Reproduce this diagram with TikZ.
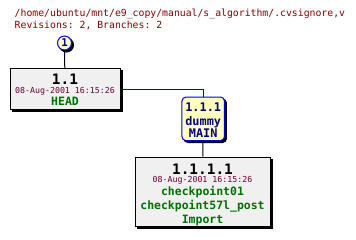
\documentclass[tikz,border=0pt]{standalone}
\usepackage{fontspec}
\setmonofont{DejaVu Sans Mono}
\usepackage{tikz}
\usetikzlibrary{positioning, shadows}

\definecolor{titlered}{RGB}{136,0,0}
\definecolor{datered}{RGB}{102,0,51}
\definecolor{taggreen}{RGB}{0,112,0}
\definecolor{branchblue}{RGB}{0,0,128}
\definecolor{linkblue}{RGB}{0,0,220}
\definecolor{revgray}{RGB}{240,240,240}
\definecolor{paleyellow}{RGB}{255,255,192}

\begin{document}
\begin{tikzpicture}[
  x=0.75pt, y=-0.75pt,
  font=\ttfamily,
  shade/.style={
    drop shadow={shadow xshift=1.5pt, shadow yshift=-1.5pt,
      fill=black, draw=black, opacity=1}
  },
  revbox/.style={
    draw=black,
    fill=revgray,
    line width=0.75pt,
    inner sep=0pt,
    shade
  },
  branchbox/.style={
    draw=linkblue,
    fill=paleyellow,
    rounded corners=3pt,
    line width=0.75pt,
    inner sep=0pt,
    shade
  },
  line/.style={anchor=base, inner sep=0pt},
  revlabel/.style={line, font=\ttfamily\bfseries\fontsize{10.8pt}{12pt}\selectfont},
  datelabel/.style={line, text=datered, font=\ttfamily\fontsize{6.2pt}{7pt}\selectfont},
  taglabel/.style={line, text=taggreen, font=\ttfamily\bfseries\fontsize{8.6pt}{10pt}\selectfont},
  branchlabel/.style={line, text=branchblue, font=\ttfamily\bfseries\fontsize{8.9pt}{10pt}\selectfont},
  headtext/.style={
    text=titlered,
    anchor=base west,
    font=\ttfamily\fontsize{7.35pt}{8.8pt}\selectfont
  },
  link/.style={
    draw=black,
    line width=0.75pt
  },
  branchlink/.style={
    draw=linkblue,
    line width=0.75pt
  }
]
\useasboundingbox (0,0) rectangle (356,239);

% File header
\node[headtext] (path) at (10,16.7)
{/home/ubuntu/mnt/e9\_copy/manual/s\_algorithm/.cvsignore,v};
\node[headtext] (stats) at (10,28.3)
{Revisions: 2, Branches: 2};

% Start marker
\node[circle, draw=linkblue, fill=paleyellow, line width=0.75pt,
  minimum size=10.5pt, inner sep=0pt, text=branchblue, shade,
  font=\ttfamily\bfseries\fontsize{8pt}{9pt}\selectfont] (start) at (64.5,43) {1};

% Trunk revision
\node[revbox, minimum width=82.5pt, minimum height=30.4pt] (rev11) at (65,89.25) {};
\node[revlabel] (rev11num) at (65,84.5) {1.1};
\node[datelabel] (rev11date) at (65,93.3) {08-Aug-2001 16:15:26};
\node[taglabel] (rev11tag) at (65,105.3) {HEAD};

% Branch
\node[branchbox, minimum width=31.9pt, minimum height=32.6pt] (br111) at (203.2,118.8) {};
\node[branchlabel] (br111num) at (203.2,111.7) {1.1.1};
\node[branchlabel] (br111name) at (203.2,125) {dummy};
\node[branchlabel] (br111tag) at (203.2,137.7) {MAIN};

% Branch revision
\node[revbox, minimum width=101.25pt, minimum height=51.75pt] (rev1111) at (202.5,191.5) {};
\node[revlabel] (rev1111num) at (202.5,174.3) {1.1.1.1};
\node[datelabel] (rev1111date) at (202.5,182.4) {08-Aug-2001 16:15:26};
\node[taglabel] (rev1111tagA) at (202.5,195.7) {checkpoint01};
\node[taglabel] (rev1111tagB) at (202.5,209.3) {checkpoint57l\_post};
\node[taglabel] (rev1111tagC) at (202.5,223.1) {Import};

% Connectors
\draw[link] (start) -- (rev11);
\draw[branchlink] (rev11.east) -| (br111.north);
\draw[link] (br111) -- (rev1111);

\end{tikzpicture}
\end{document}
